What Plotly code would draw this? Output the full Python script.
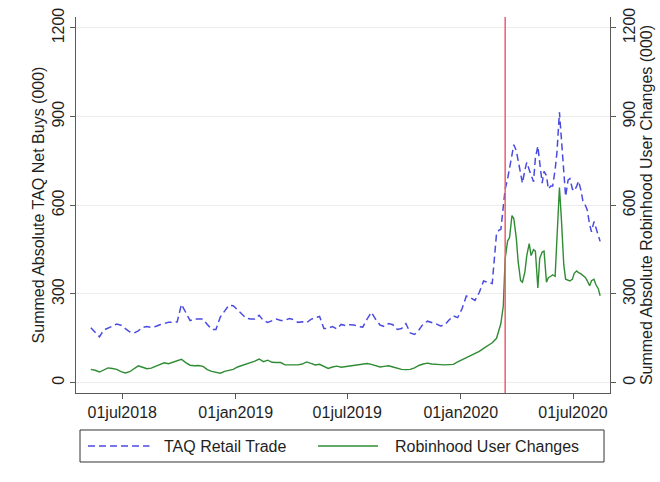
import pandas as pd
import plotly.graph_objects as go

# Weekly observations (Fridays), May 2018 - Feb 2020
weekly_dates = pd.date_range("2018-05-11", "2020-02-28", freq="W-FRI")
taq_weekly = [
    186, 170, 155, 178, 185, 190, 198, 194, 184, 172,
    168, 175, 187, 190, 187, 190, 196, 201, 204, 205,
    205, 265, 236, 210, 215, 216, 215, 197, 180, 180,
    222, 242, 262, 260, 247, 231, 218, 215, 215, 228,
    210, 204, 210, 215, 210, 211, 217, 213, 204, 206,
    203, 214, 220, 224, 183, 184, 190, 182, 197, 193,
    196, 195, 190, 188, 215, 238, 214, 195, 190, 200,
    196, 180, 183, 200, 168, 163, 178, 198, 208, 204,
    199, 192, 195, 212, 226, 220, 250, 293, 287, 278,
    305, 344, 340, 335, 505,
]
rh_weekly = [
    45, 42, 36, 42, 50, 48, 45, 37, 33, 37,
    46, 57, 52, 47, 49, 55, 62, 67, 64, 69,
    75, 79, 68, 59, 57, 58, 55, 44, 38, 34,
    32, 38, 41, 45, 53, 58, 62, 66, 73, 80,
    71, 76, 69, 68, 68, 60, 60, 62, 60, 63,
    70, 65, 60, 62, 54, 48, 53, 56, 52, 54,
    57, 59, 61, 63, 65, 62, 57, 53, 55, 57,
    53, 49, 45, 44, 45, 50, 58, 63, 66, 63,
    61, 61, 60, 61, 62, 70, 77, 85, 92, 100,
    106, 116, 125, 135, 150,
]

# Twice-weekly observations, Mar - Aug 2020
covid_dates = [
    "2020-03-03", "2020-03-06", "2020-03-10", "2020-03-13", "2020-03-17", "2020-03-20",
    "2020-03-24", "2020-03-27", "2020-03-31", "2020-04-03", "2020-04-07", "2020-04-10",
    "2020-04-14", "2020-04-17", "2020-04-21", "2020-04-24", "2020-04-28", "2020-05-01",
    "2020-05-05", "2020-05-08", "2020-05-12", "2020-05-15", "2020-05-19", "2020-05-22",
    "2020-05-26", "2020-05-29", "2020-06-02", "2020-06-05", "2020-06-09", "2020-06-12",
    "2020-06-16", "2020-06-19", "2020-06-23", "2020-06-26", "2020-06-30", "2020-07-03",
    "2020-07-07", "2020-07-10", "2020-07-14", "2020-07-17", "2020-07-21", "2020-07-24",
    "2020-07-28", "2020-07-31", "2020-08-04", "2020-08-07", "2020-08-11", "2020-08-14",
]
taq_covid = [
    516, 518, 610, 655, 690, 725, 770, 805, 785,
    750, 705, 675, 720, 745, 720, 705, 680,
    760, 800, 745, 675, 715, 700, 655, 665, 665,
    720, 780, 915, 830, 720, 630, 685, 690, 655,
    648, 665, 682, 650, 615, 600, 585, 535, 510,
    545, 525, 490, 478,
]
rh_covid = [
    180, 200, 260, 420, 480, 490, 565, 555, 490,
    410, 345, 340, 375, 430, 470, 430, 450,
    445, 320, 420, 442, 445, 340, 355, 360, 365,
    360, 500, 660, 560, 400, 350, 345, 344, 350,
    370, 378, 372, 368, 362, 356, 345, 328, 345,
    350, 332, 318, 294,
]

dates = [d.strftime("%Y-%m-%d") for d in weekly_dates] + covid_dates
taq_retail = taq_weekly + taq_covid
robinhood = rh_weekly + rh_covid

event_date = "2020-03-13"
tick_dates = ["2018-07-01", "2019-01-01", "2019-07-01", "2020-01-01", "2020-07-01"]
tick_text = ["01jul2018", "01jan2019", "01jul2019", "01jan2020", "01jul2020"]
y_ticks = [0, 300, 600, 900, 1200]

BLUE = "#4b4be2"
GREEN = "#2f8c33"
RED = "#ec5f6b"
AXIS = "#595959"
TXT = "#1f1f1f"
FONT = "Liberation Sans, Arial, sans-serif"

fig = go.Figure()
fig.add_trace(go.Scatter(
    x=dates, y=taq_retail, name="TAQ Retail Trade", mode="lines",
    line=dict(color=BLUE, width=1.5, dash="7px,4px"), showlegend=False,
))
fig.add_trace(go.Scatter(
    x=dates, y=robinhood, name="Robinhood User Changes", mode="lines",
    line=dict(color=GREEN, width=1.4), yaxis="y2", showlegend=False,
))

# event marker
fig.add_shape(type="line", xref="x", yref="paper", x0=event_date, x1=event_date,
              y0=0, y1=1, line=dict(color=RED, width=1.5))

# legend box drawn in paper coordinates
fig.add_shape(type="rect", xref="paper", yref="paper", x0=0.0075, x1=0.9888,
              y0=-0.1835, y1=-0.0984, line=dict(color="#333333", width=1),
              fillcolor="white")
ly = -0.1410
fig.add_shape(type="line", xref="paper", yref="paper", x0=0.0225, x1=0.1376,
              y0=ly, y1=ly, line=dict(color=BLUE, width=1.5, dash="7px,4px"))
fig.add_shape(type="line", xref="paper", yref="paper", x0=0.4532, x1=0.5655,
              y0=ly, y1=ly, line=dict(color=GREEN, width=1.4))
fig.add_annotation(xref="paper", yref="paper", x=0.1610, y=ly, text="TAQ Retail Trade",
                   showarrow=False, xanchor="left", yanchor="middle",
                   font=dict(family=FONT, size=16, color=TXT))
fig.add_annotation(xref="paper", yref="paper", x=0.5936, y=ly, text="Robinhood User Changes",
                   showarrow=False, xanchor="left", yanchor="middle",
                   font=dict(family=FONT, size=16, color=TXT))

yaxis_common = dict(
    range=[-35, 1237], tickvals=y_ticks, ticktext=[str(v) for v in y_ticks],
    tickangle=-90, ticks="outside", ticklen=5, tickcolor=AXIS,
    showline=True, linecolor=AXIS, linewidth=1, zeroline=False, automargin=False,
    tickfont=dict(family=FONT, size=16, color=TXT),
)

fig.update_layout(
    width=660, height=482,
    margin=dict(l=76, r=50, t=17, b=89),
    paper_bgcolor="white", plot_bgcolor="white",
    font=dict(family=FONT, size=16, color=TXT),
    xaxis=dict(
        type="date", range=["2018-04-17", "2020-08-30"],
        tickvals=tick_dates, ticktext=tick_text, automargin=False,
        ticks="outside", ticklen=5, tickcolor=AXIS,
        showline=True, linecolor=AXIS, linewidth=1, showgrid=False, zeroline=False,
        tickfont=dict(family=FONT, size=16, color=TXT),
    ),
    yaxis=dict(
        **yaxis_common, showgrid=True, gridcolor="#ececec", gridwidth=1,
        title=dict(text="Summed Absolute TAQ Net Buys (000)",
                   font=dict(family=FONT, size=16, color=TXT), standoff=0),
    ),
    yaxis2=dict(
        **yaxis_common, overlaying="y", side="right", showgrid=False,
        title=dict(text="Summed Absolute Robinhood User Changes (000)",
                   font=dict(family=FONT, size=16, color=TXT), standoff=0),
    ),
)

fig.write_html("out.html")
